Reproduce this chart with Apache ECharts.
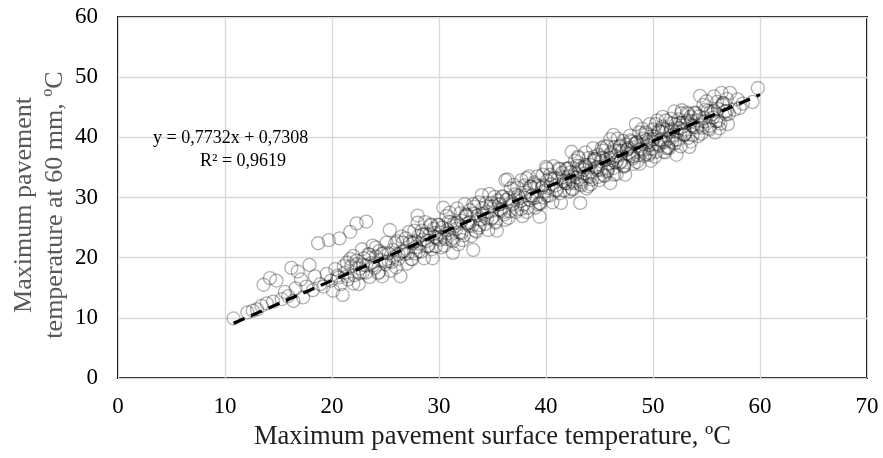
<!DOCTYPE html>
<html>
<head>
<meta charset="utf-8">
<script src="https://cdn.jsdelivr.net/npm/echarts@6/dist/echarts.min.js"></script>
<style>
html,body{margin:0;padding:0;background:#fff;}
#chart{width:883px;height:458px;}
</style>
</head>
<body>
<div id="chart"></div>
<script>
// ---- data ----
var xTicks = [0, 10, 20, 30, 40, 50, 60, 70];
var yTicks = [0, 10, 20, 30, 40, 50, 60];
var xTitle = 'Maximum pavement surface temperature, ºC';
var yTitleLines = ['Maximum pavement', 'temperature at 60 mm, ºC'];
var equationText = 'y = 0,7732x + 0,7308';
var r2Text = 'R² = 0,9619';

var ptsLow = [[10.8,9.9],[12.1,10.9],[12.6,11.2],[13.0,11.4],[13.4,12.0],[13.6,15.5],[13.9,12.4],[14.2,16.6],[14.5,12.7],[14.8,16.2],[15.3,13.1],[15.6,14.3],[15.9,13.6],[16.2,18.3],[16.4,12.8],[16.6,14.9],[16.8,17.7],[17.1,16.4],[17.3,13.4],[17.6,15.2],[17.9,18.8],[18.2,14.6],[18.4,16.9],[18.7,22.4],[18.9,15.6],[19.2,15.2],[19.5,17.3],[19.7,22.9],[19.9,16.2],[20.1,14.5],[20.3,18.1],[20.6,16.7],[20.7,23.2],[21.0,13.8],[21.2,17.5]];

var ptsMid = [[21.4,19.2],[21.5,16.4],[21.7,24.3],[21.8,18.6],[22.0,20.3],[22.1,17.1],[22.3,25.7],[22.3,19.5],[22.5,15.6],[22.6,18.2],[22.8,21.4],[22.9,17.6],[23.0,19.9],[23.2,26.0],[23.2,18.7],[23.4,20.6],[23.5,16.8],[23.7,19.1],[23.8,22.0],[24.0,18.3],[24.1,20.2],[24.3,17.4],[24.4,21.1],[24.6,19.6],[24.7,16.9],[24.9,20.8],[25.0,18.9],[25.1,22.5],[25.3,19.4],[25.4,24.6],[25.5,17.8],[25.7,21.3],[25.8,20.1],[26.0,18.4],[26.1,22.7],[26.2,19.8],[26.4,16.9],[26.5,21.0]];

var ptsMid2 = [[20.5,17.0],[20.8,15.6],[21.1,18.6],[21.4,16.9],[21.7,19.8],[22.0,15.7],[22.3,18.9],[22.6,17.4],[22.9,18.8],[23.2,17.5],[23.5,20.5],[23.8,18.7],[24.1,21.7],[24.4,17.6],[24.7,20.7],[25.0,19.3],[25.3,20.7],[25.6,19.3],[25.9,22.4],[26.2,20.6],[26.5,23.5]];

var ptsBand = [[26.6,22.5],[26.8,20.6],[27.0,19.0],[27.2,24.3],[27.4,19.8],[27.6,22.4],[27.8,20.7],[28.0,25.8],[28.2,22.3],[28.4,24.5],[28.6,19.9],[28.8,23.9],[29.0,22.0],[29.2,25.5],[29.4,19.9],[29.6,24.1],[29.8,23.2],[30.0,25.4],[30.2,21.7],[30.4,28.3],[30.6,23.1],[30.8,24.6],[31.0,27.5],[31.2,23.0],[31.4,25.7],[31.6,24.8],[31.8,22.2],[32.0,27.4],[32.2,22.9],[32.4,28.9],[32.6,27.1],[32.8,25.3],[33.0,23.6],[33.2,28.9],[33.4,24.5],[33.6,27.0],[33.8,25.4],[34.0,30.4],[34.2,27.0],[34.4,29.1],[34.6,24.6],[34.8,28.5],[35.0,26.7],[35.2,30.1],[35.4,24.5],[35.6,28.8],[35.8,27.8],[36.0,30.1],[36.2,26.3],[36.4,33.0],[36.6,27.7],[36.8,29.3],[37.0,32.1],[37.2,27.6],[37.4,30.3],[37.6,29.4],[37.8,26.9],[38.0,32.0],[38.2,27.6],[38.4,33.5],[38.6,31.8],[38.8,29.9],[39.0,28.3],[39.2,33.5],[39.4,29.1],[39.6,31.6],[39.8,30.0],[40.0,35.1],[40.2,31.6],[40.4,33.8],[40.6,29.2],[40.8,33.2],[41.0,31.3],[41.2,34.8],[41.4,29.1],[41.6,33.4],[41.8,32.4],[42.0,34.7],[42.2,31.0],[42.4,37.6],[42.6,32.4],[42.8,33.9],[43.0,36.8],[43.2,32.2],[43.4,35.0],[43.6,34.0],[43.8,31.5],[44.0,36.6],[44.2,32.2],[44.4,38.2],[44.6,36.4],[44.8,34.6],[45.0,32.9],[45.2,38.2],[45.4,33.7],[45.6,36.3],[45.8,34.6],[46.0,39.7],[46.2,36.2],[46.4,38.4],[46.6,33.9],[46.8,37.8],[47.0,36.0],[47.2,39.4],[47.4,33.8],[47.6,38.0],[47.8,37.1],[48.0,39.3],[48.2,35.6],[48.4,42.2],[48.6,37.0],[48.8,38.6],[49.0,41.4],[49.2,36.9],[49.4,39.6],[49.6,38.7],[49.8,36.1],[50.0,41.3],[50.2,36.8],[50.4,42.8],[50.6,41.0],[50.8,39.2],[51.0,37.6],[51.2,42.8],[51.4,38.4],[51.6,40.9],[51.8,39.3],[52.0,44.3],[52.2,40.9],[52.4,43.0],[52.6,38.5],[52.8,42.4],[53.0,40.6],[53.2,44.1],[53.4,38.4],[53.6,42.7],[53.8,41.7],[54.0,44.0],[54.2,40.2],[54.4,46.9],[54.6,41.6],[54.8,43.2],[55.0,46.0],[55.2,41.5],[55.4,44.3],[55.6,43.3],[55.8,40.8],[56.0,45.9],[56.2,41.5],[56.4,47.4],[56.6,45.7],[56.8,43.8],[57.0,42.2],[57.2,47.4]];

var ptsBand2 = [[27.7,22.7],[28.1,21.1],[28.5,23.8],[28.9,22.8],[29.3,25.4],[29.7,21.9],[30.1,24.2],[30.5,23.4],[30.9,26.0],[31.3,22.7],[31.7,25.8],[32.1,24.1],[32.5,26.9],[32.9,25.9],[33.3,28.5],[33.7,25.0],[34.1,27.3],[34.5,26.5],[34.9,29.1],[35.3,25.8],[35.7,28.9],[36.1,27.2],[36.5,29.9],[36.9,29.0],[37.3,31.6],[37.7,28.1],[38.1,30.4],[38.5,29.6],[38.9,32.2],[39.3,28.9],[39.7,32.0],[40.1,30.3],[40.5,33.0],[40.9,32.0],[41.3,34.7],[41.7,31.2],[42.1,33.5],[42.5,32.7],[42.9,35.3],[43.3,32.0],[43.7,35.1],[44.1,33.4],[44.5,36.1],[44.9,35.1],[45.3,37.8],[45.7,34.3],[46.1,36.6],[46.5,35.8],[46.9,38.4],[47.3,35.1],[47.7,38.2],[48.1,36.5],[48.5,39.2],[48.9,38.2],[49.3,40.8],[49.7,37.4],[50.1,39.7],[50.5,38.9],[50.9,41.5],[51.3,38.2],[51.7,41.3],[52.1,39.6],[52.5,42.3],[52.9,41.3],[53.3,43.9],[53.7,40.4],[54.1,42.8],[54.5,42.0],[54.9,44.6],[55.3,41.3],[55.7,44.4],[56.1,42.7],[56.5,45.4],[56.9,44.4]];

var ptsBand3 = [[26.7,21.1],[26.9,23.2],[27.1,20.7],[27.3,22.6],[27.5,19.7],[27.7,24.5],[27.9,21.8],[28.1,23.6],[28.3,21.0],[28.5,23.0],[28.7,25.9],[28.9,21.9],[29.1,23.8],[29.3,21.4],[29.5,24.8],[29.7,23.4],[29.9,25.5],[30.1,23.0],[30.3,25.0],[30.5,22.0],[30.7,26.9],[30.9,24.1],[31.1,25.9],[31.3,23.3],[31.5,25.3],[31.7,28.2],[31.9,24.2],[32.1,26.1],[32.3,23.7],[32.5,27.2],[32.7,25.7],[32.9,27.9],[33.1,25.3],[33.3,27.3],[33.5,24.3],[33.7,29.2],[33.9,26.4],[34.1,28.2],[34.3,25.6],[34.5,27.6],[34.7,30.6],[34.9,26.5],[35.1,28.5],[35.3,26.0],[35.5,29.5],[35.7,28.0],[35.9,30.2],[36.1,27.6],[36.3,29.6],[36.5,26.6],[36.7,31.5],[36.9,28.8],[37.1,30.5],[37.3,28.0],[37.5,29.9],[37.7,32.9],[37.9,28.8],[38.1,30.8],[38.3,28.3],[38.5,31.8],[38.7,30.3],[38.9,32.5],[39.1,30.0],[39.3,31.9],[39.5,29.0],[39.7,33.8],[39.9,31.1],[40.1,32.8],[40.3,30.3],[40.5,32.2],[40.7,35.2],[40.9,31.2],[41.1,33.1],[41.3,30.7],[41.5,34.1],[41.7,32.7],[41.9,34.8],[42.1,32.3],[42.3,34.2],[42.5,31.3],[42.7,36.1],[42.9,33.4],[43.1,35.2],[43.3,32.6],[43.5,34.6],[43.7,37.5],[43.9,33.5],[44.1,35.4],[44.3,33.0],[44.5,36.4],[44.7,35.0],[44.9,37.1],[45.1,34.6],[45.3,36.6],[45.5,33.6],[45.7,38.5],[45.9,35.7],[46.1,37.5],[46.3,34.9],[46.5,36.9],[46.7,39.8],[46.9,35.8],[47.1,37.7],[47.3,35.3],[47.5,38.8],[47.7,37.3],[47.9,39.5],[48.1,36.9],[48.3,38.9],[48.5,35.9],[48.7,40.8],[48.9,38.0],[49.1,39.8],[49.3,37.2],[49.5,39.2],[49.7,42.2],[49.9,38.1],[50.1,40.1],[50.3,37.6],[50.5,41.1],[50.7,39.6],[50.9,41.8],[51.1,39.2],[51.3,41.2],[51.5,38.2],[51.7,43.1],[51.9,40.4],[52.1,42.1],[52.3,39.6],[52.5,41.5],[52.7,44.5],[52.9,40.4],[53.1,42.4],[53.3,39.9],[53.5,43.4],[53.7,41.9],[53.9,44.1],[54.1,41.6],[54.3,43.5],[54.5,40.6],[54.7,45.4],[54.9,42.7],[55.1,44.4],[55.3,41.9],[55.5,43.8],[55.7,46.8],[55.9,42.7],[56.1,44.7],[56.3,42.3],[56.5,45.7],[56.7,44.3],[56.9,46.4],[57.1,43.9]];

var ptsCore = [[41.85,32.4],[42.15,34.9],[42.45,31.5],[42.75,34.2],[43.05,36.6],[43.35,33.0],[43.65,35.4],[43.95,31.9],[44.25,34.2],[44.55,36.8],[44.85,33.4],[45.15,36.0],[45.45,38.5],[45.75,34.9],[46.05,37.2],[46.35,33.8],[46.65,36.1],[46.95,38.6],[47.25,35.3],[47.55,37.9],[47.85,40.3],[48.15,36.8],[48.45,39.1],[48.75,35.6],[49.05,37.9],[49.35,40.5],[49.65,37.1],[49.95,39.7],[50.25,42.2],[50.55,38.6],[50.85,40.9],[51.15,37.5],[51.45,39.8],[51.75,42.3],[52.05,39.0],[52.35,41.6],[52.65,44.0],[52.95,40.5],[53.25,42.8],[53.55,39.3]];

var ptsEnds = [[57.6,44.6],[57.9,46.3],[58.1,44.9],[58.4,45.6],[59.3,45.9],[59.8,48.2]];

var ptsOutliers = [[31.3,20.8],[33.2,21.3],[39.4,26.8],[43.2,29.1],[46.0,32.4],[52.2,37.1],[40.1,34.8],[36.2,32.9],[38.2,33.2],[46.3,40.4],[50.9,43.4],[28.0,27.0]];

var trendLine = [[10.8, 9.1], [60.0, 47.1]];

// ---- chart ----
var allPoints = [].concat(ptsLow, ptsMid, ptsMid2, ptsBand, ptsBand2, ptsBand3, ptsCore, ptsEnds, ptsOutliers);
var FONT = '"Liberation Serif", "Times New Roman", serif';

var chart = echarts.init(document.getElementById('chart'), null, {renderer: 'canvas'});
chart.setOption({
  animation: false,
  backgroundColor: '#ffffff',
  grid: {left: 118, right: 16, top: 17, bottom: 80, show: true, borderColor: '#000000', borderWidth: 2, backgroundColor: 'transparent'},
  xAxis: {
    type: 'value', min: xTicks[0], max: xTicks[xTicks.length - 1], interval: 10,
    name: xTitle, nameLocation: 'middle', nameGap: 46,
    nameTextStyle: {fontFamily: FONT, fontSize: 26.6, color: '#1f1f1f'},
    axisLine: {show: false}, axisTick: {show: false},
    axisLabel: {fontFamily: FONT, fontSize: 23, color: '#000', margin: 17},
    splitLine: {show: true, lineStyle: {color: '#d9d9d9', width: 1.3}}
  },
  yAxis: {
    type: 'value', min: yTicks[0], max: yTicks[yTicks.length - 1], interval: 10,
    axisLine: {show: false}, axisTick: {show: false},
    axisLabel: {fontFamily: FONT, fontSize: 23, color: '#000', margin: 20},
    splitLine: {show: true, lineStyle: {color: '#d9d9d9', width: 1.3}}
  },
  graphic: [
    {type: 'text', x: 40, y: 205, rotation: Math.PI / 2,
     style: {text: yTitleLines.join('\n'), font: '26px ' + FONT, fill: '#595959', textAlign: 'center', textVerticalAlign: 'middle', lineHeight: 31}},
    {type: 'text', x: 153, y: 138, z: 10,
     style: {text: equationText, font: '18px ' + FONT, fill: '#000', textAlign: 'left', textVerticalAlign: 'middle'}},
    {type: 'text', x: 200, y: 161, z: 10,
     style: {text: r2Text, font: '18px ' + FONT, fill: '#000', textAlign: 'left', textVerticalAlign: 'middle'}}
  ],
  series: [
    {type: 'scatter', data: allPoints, symbol: 'circle', symbolSize: 13,
     itemStyle: {color: 'rgba(0,0,0,0)', borderColor: 'rgba(20,20,20,0.42)', borderWidth: 1.3},
     emphasis: {disabled: true}, z: 2},
    {type: 'line', data: trendLine, symbol: 'none', z: 5,
     lineStyle: {color: '#000', width: 3.2, type: [12, 7], cap: 'butt'}}
  ]
});
</script>
</body>
</html>
